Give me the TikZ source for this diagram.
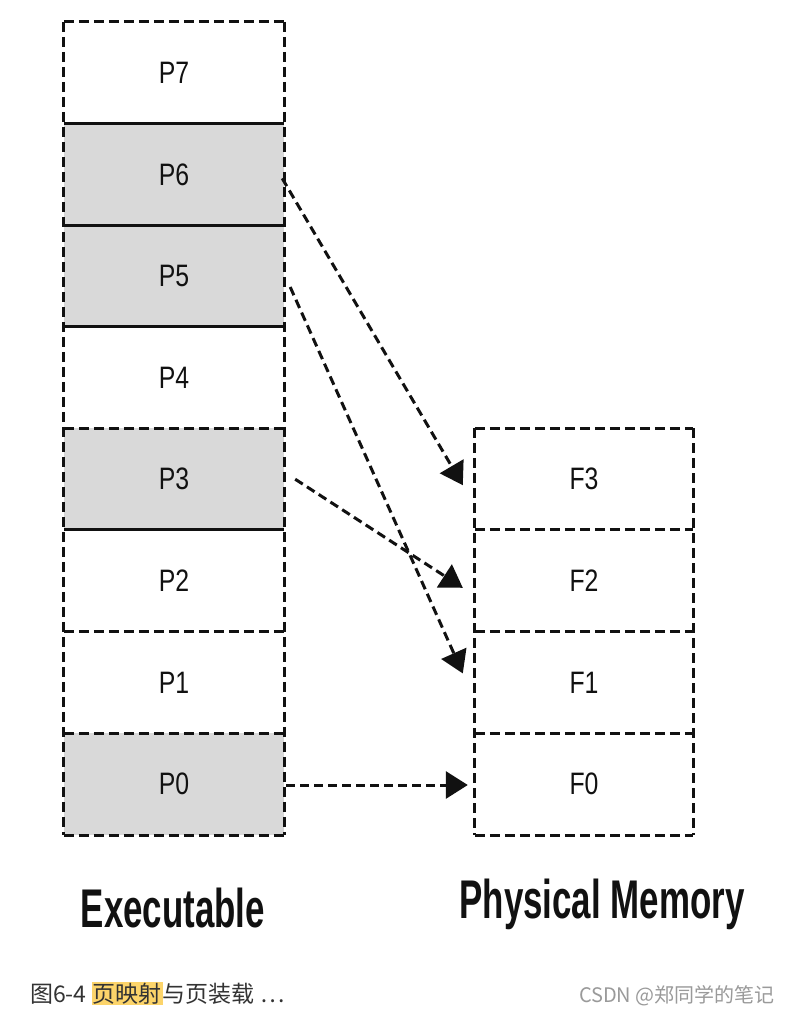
\documentclass[tikz,border=0pt]{standalone}
\usepackage{fontspec}
\usetikzlibrary{arrows.meta,calc}
\newfontfamily\lblfont[FakeStretch=0.8]{Liberation Sans}
\newfontfamily\ttlfont[FakeStretch=0.64]{Liberation Sans}
\newfontfamily\cjk{Noto Sans CJK SC}
\definecolor{boxgray}{HTML}{D9D9D9}
\definecolor{hl}{HTML}{FCD46A}
\definecolor{captxt}{HTML}{333333}
\definecolor{wm}{HTML}{9A9A9A}
\definecolor{ink}{HTML}{111111}
\tikzset{
  pbox/.style={rectangle, minimum width=220pt, minimum height=101.6pt, inner sep=0pt,
    font=\lblfont\fontsize{31}{31}\selectfont, text=ink},
  fbox/.style={pbox, minimum width=218pt},
  shaded/.style={fill=boxgray},
  dashedge/.style={draw=ink, line width=3pt, dash pattern=on 10pt off 5pt},
  solidedge/.style={draw=ink, line width=3pt},
  maparrow/.style={draw=ink, line width=3pt, dash pattern=on 9pt off 5pt,
    -{Triangle[length=22pt,width=27pt]}},
  title/.style={font=\ttlfont\bfseries\fontsize{54.5}{54.5}\selectfont, text=ink, inner sep=0pt},
}
\begin{document}
\begin{tikzpicture}[x=1pt,y=-1pt]
\useasboundingbox[fill=white] (0,0) rectangle (791,1014);
% executable pages
\node[pbox] (P7) at (174,72.8) {P7};
\node[pbox,shaded] (P6) at (174,174.4) {P6};
\node[pbox,shaded] (P5) at (174,276) {P5};
\node[pbox] (P4) at (174,377.6) {P4};
\node[pbox,shaded] (P3) at (174,479.2) {P3};
\node[pbox] (P2) at (174,580.8) {P2};
\node[pbox] (P1) at (174,682.4) {P1};
\node[pbox,shaded] (P0) at (174,784) {P0};
% physical frames
\node[fbox] (F3) at (584,479.2) {F3};
\node[fbox] (F2) at (584,580.8) {F2};
\node[fbox] (F1) at (584,682.4) {F1};
\node[fbox] (F0) at (584,784) {F0};
% left column borders
\draw[dashedge] (P7.north west) -- (P0.south west);
\draw[dashedge] (P7.north east) -- (P0.south east);
\draw[dashedge] (P7.north west) -- (P7.north east);
\draw[solidedge] (P6.north west) -- (P6.north east);
\draw[solidedge] (P5.north west) -- (P5.north east);
\draw[solidedge] (P4.north west) -- (P4.north east);
\draw[dashedge] (P3.north west) -- (P3.north east);
\draw[solidedge] (P2.north west) -- (P2.north east);
\draw[dashedge] (P1.north west) -- (P1.north east);
\draw[dashedge] (P0.north west) -- (P0.north east);
\draw[dashedge] (P0.south west) -- (P0.south east);
% right column borders
\draw[dashedge] (F3.north west) -- (F0.south west);
\draw[dashedge] (F3.north east) -- (F0.south east);
\draw[dashedge] (F3.north west) -- (F3.north east);
\draw[dashedge] (F2.north west) -- (F2.north east);
\draw[dashedge] (F1.north west) -- (F1.north east);
\draw[dashedge] (F0.north west) -- (F0.north east);
\draw[dashedge] (F0.south west) -- (F0.south east);
% mapping arrows
\draw[maparrow] ($(P6.east)+(-2,4)$) -- ($(F3.west)+(-12,6)$);
\draw[maparrow] ($(P5.east)+(6,11)$) -- ($(F1.west)+(-12,-9)$);
\draw[maparrow] ($(P3.east)+(11,0)$) -- ($(F2.west)+(-12,7)$);
\draw[maparrow] ($(P0.east)+(2,1)$) -- ($(F0.west)+(-7,1)$);
% titles
\node[title, anchor=base] (exe) at (173,927) {Executable};
\node[title, anchor=base] (phys) at (602,918) {Physical Memory};
% caption
\node[anchor=base west, inner sep=0pt, text=captxt, font=\cjk\fontsize{23}{23}\selectfont] (cap) at (30,1002)
  {图6-4 {\setlength\fboxsep{1pt}\colorbox{hl}{页映射}}与页装载 …};
\node[anchor=base east, inner sep=0pt, text=wm, font=\cjk\fontsize{20}{20}\selectfont] (mark) at (775,1002)
  {CSDN @郑同学的笔记};
\end{tikzpicture}
\end{document}
